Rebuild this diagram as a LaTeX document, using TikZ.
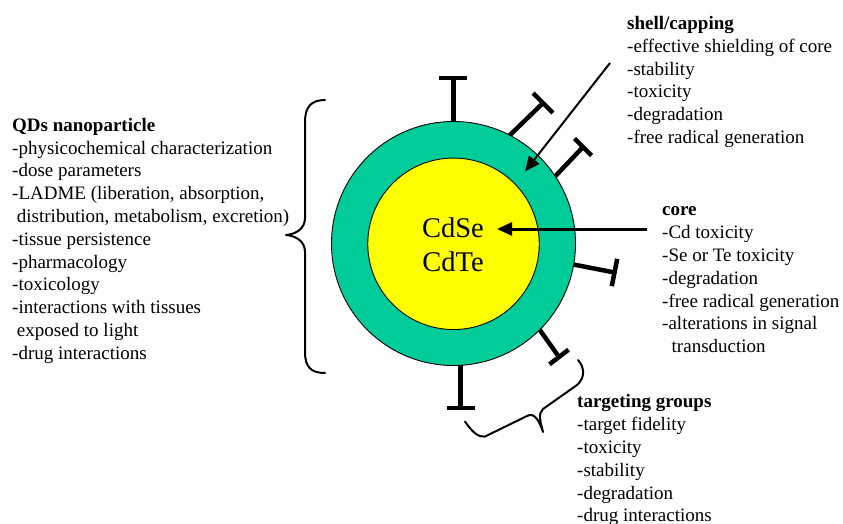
\documentclass[tikz,border=0pt]{standalone}
\usepackage{fontspec}
\setmainfont{Liberation Serif}
\usetikzlibrary{arrows.meta}
\definecolor{shellgreen}{RGB}{0,204,153}
\definecolor{coreyellow}{RGB}{255,255,0}
\tikzset{
  lig/.style={line width=4.5pt, line cap=butt},
  bracestyle/.style={line width=2pt, line cap=round, line join=round},
  txt/.style={anchor=north west, inner sep=0pt, align=left, font=\fontsize{19}{22.8}\selectfont},
  ptr/.style={-{Triangle[length=15pt,width=13pt]}},
}
\begin{document}
\begin{tikzpicture}[x=1pt,y=-1pt]
\useasboundingbox (0,0) rectangle (843,524);
% ligands (drawn first, circle covers their roots)
\draw[lig] (453.3,126) -- (453.3,78);
\draw[lig] (439.3,78) -- (467.3,78);
\draw[lig] (508.9,136.1) -- (543,103);
\draw[lig] (533.1,93.1) -- (552.9,112.9);
\draw[lig] (552.2,179.5) -- (583,147);
\draw[lig] (574.5,138.5) -- (591.5,155.5);
\draw[lig] (572,264.2) -- (614.5,272.5);
\draw[lig] (617.2,258.8) -- (611.8,286.2);
\draw[lig] (537.6,326.8) -- (559,357);
\draw[lig] (549.5,364.3) -- (568.5,349.7);
\draw[lig] (460.7,361) -- (460.7,408);
\draw[lig] (446.7,408) -- (474.7,408);
% particle
\node[circle, draw=black, line width=0.9pt, fill=shellgreen, minimum size=244pt, inner sep=0pt] (shell) at (453.5,243.5) {};
\node[circle, draw=black, line width=0.9pt, fill=coreyellow, minimum size=171.5pt, inner sep=0pt] (core) at (453.5,243.8) {};
\node[anchor=north, inner sep=0pt, align=center, font=\fontsize{28.5}{34}\selectfont] (cdlabel) at (453,213.2) {\strut CdSe\\CdTe};
% left brace
\draw[bracestyle] (325,100) .. controls (311,100) and (305,107) .. (305,122) -- (305,218)
  .. controls (305,228) and (297,234) .. (286,235)
  .. controls (297,236) and (305,242) .. (305,252) -- (305,352)
  .. controls (305,367) and (311,373) .. (325,373);
% bottom brace
\draw[bracestyle] (465,421.5) .. controls (471,430) and (477,437.5) .. (485,436.5) -- (527,416)
  .. controls (534,412) and (539,420) .. (543,432)
  .. controls (540,420) and (538,414) .. (543,409) -- (577,385)
  .. controls (585,378) and (585,368) .. (578,360);
% texts
\node[txt] (qds) at (12,115.04) {\strut\textbf{QDs nanoparticle}\\
-physicochemical characterization\\
-dose parameters\\
-LADME (liberation, absorption,\\
\hspace*{4.75pt}distribution, metabolism, excretion)\\
-tissue persistence\\
-pharmacology\\
-toxicology\\
-interactions with tissues\\
\hspace*{4.75pt}exposed to light\\
-drug interactions};
\node[txt] (shelltxt) at (627,13.3) {\strut\textbf{shell/capping}\\
-effective shielding of core\\
-stability\\
-toxicity\\
-degradation\\
-free radical generation};
\node[txt] (coretxt) at (662,199.7) {\strut\textbf{core}\\
-Cd toxicity\\
-Se or Te toxicity\\
-degradation\\
-free radical generation\\
-alterations in signal\\
\hspace*{9.5pt}transduction};
\node[txt] (targtxt) at (577,391.7) {\strut\textbf{targeting groups}\\
-target fidelity\\
-toxicity\\
-stability\\
-degradation\\
-drug interactions};
% arrows
\coordinate (shellfrom) at (610,63);
\coordinate (shelltip) at (525,171.5);
\coordinate (corefrom) at (647,229);
\coordinate (coretip) at (497,229);
\draw[ptr, line width=2pt] (shellfrom) -- (shelltip);
\draw[ptr, line width=3pt] (corefrom) -- (coretip);
\end{tikzpicture}
\end{document}
